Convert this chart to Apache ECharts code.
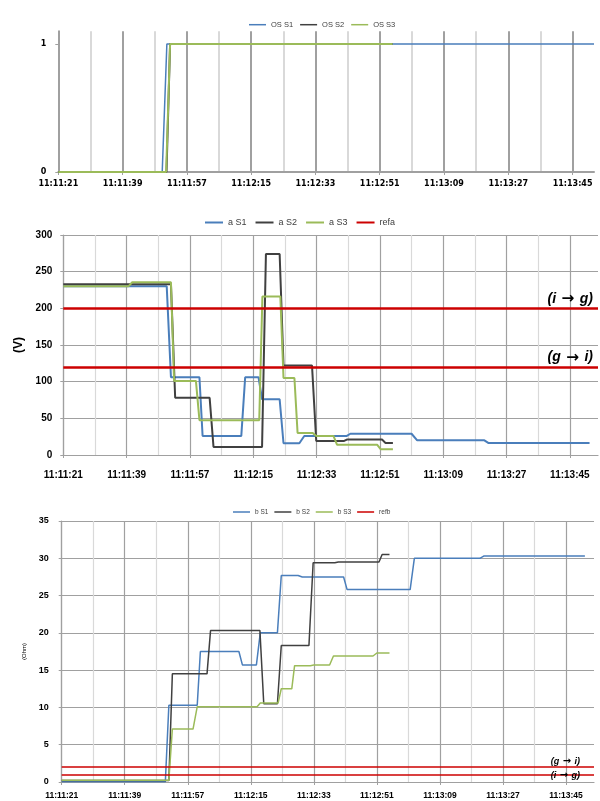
<!DOCTYPE html>
<html><head><meta charset="utf-8">
<script src="https://cdn.jsdelivr.net/npm/echarts@6/dist/echarts.min.js"></script>
<style>html,body{margin:0;padding:0;background:#fff}#c{width:600px;height:801px}</style>
</head><body><div id="c"></div>
<script>
// ---- data (x = seconds after 11:11:21) ----
const tickSeconds = [0, 18, 36, 54, 72, 90, 108, 126, 144];
const tickLabels = ['11:11:21','11:11:39','11:11:57','11:12:15','11:12:33','11:12:51','11:13:09','11:13:27','11:13:45'];
const minorSeconds = [9, 27, 45, 63, 81, 99, 117, 135];

const osS1 = [[0,0],[29.1,0],[30.4,1],[150,1]];
const osS2 = [[0,0],[30.3,0],[31.3,1],[93.6,1]];
const osS3 = [[0,0],[30.2,0],[31.3,1],[93.6,1]];

const aS1 = [[0,230],[29.4,230],[30.6,106],[38.7,106],[39.6,26],[50.6,26],[51.7,106],[55.5,106],[56.5,76],[61.5,76],[62.6,16],[67.1,16],[68.5,26],[80.6,26],[81.6,29],[99,29],[100.6,20],[119.7,20],[120.8,16.5],[149.6,16.5]];
const aS2 = [[0,233],[30.6,233],[31.8,78],[41.6,78],[42.7,11],[56.5,11],[57.6,274],[61.5,274],[62.6,122],[70.7,122],[71.9,19],[79.7,19],[80.6,21],[90.6,21],[91.6,16.5],[93.7,16.5]];
const aS3 = [[0,230],[18.5,230],[19.6,235.5],[30.6,235.5],[31.5,101],[37.7,101],[38.7,47.5],[55.7,47.5],[56.6,216],[61.7,216],[62.6,105],[65.7,105],[66.6,30],[70.9,30],[71.9,26],[76.8,26],[77.8,14],[89.2,14],[90.2,8],[93.7,8]];
const refaValues = [200, 120];
const refaLabels = ['(i \u2192 g)', '(g \u2192 i)'];

const bS1 = [[0,0.05],[29.6,0.05],[30.6,10.3],[38.7,10.3],[39.6,17.5],[50.6,17.5],[51.6,15.7],[55.6,15.7],[56.7,20],[61.6,20],[62.7,27.7],[67.5,27.7],[68.7,27.5],[80.5,27.5],[81.5,25.8],[99.5,25.8],[100.7,30],[119.4,30],[120.5,30.3],[149.4,30.3]];
const bS2 = [[0,0.2],[30.6,0.2],[31.6,14.5],[41.5,14.5],[42.5,20.3],[56.6,20.3],[57.7,10.5],[61.6,10.5],[62.7,18.3],[70.6,18.3],[71.8,29.4],[78,29.4],[79,29.5],[90.6,29.5],[91.5,30.5],[93.6,30.5]];
const bS3 = [[0,0.25],[30.6,0.25],[31.6,7.1],[37.5,7.1],[38.7,10.1],[55.8,10.1],[56.7,10.6],[61.8,10.6],[62.7,12.5],[65.7,12.5],[66.5,15.6],[71,15.6],[72,15.7],[76.5,15.7],[77.6,16.9],[88.9,16.9],[90,17.3],[93.6,17.3]];
const refbValues = [2, 1];
const refbLabels = ['(g \u2192 i)', '(i \u2192 g)'];

// ---- styling ----
const BLUE = '#4a7ebb', DARK = '#404040', GREEN = '#9bbb59', RED = '#cc0000';
const GRID_DARK = '#a0a0a0', GRID_LIGHT = '#d9d9d9';
const xMax = [150, 152, 152];
const grids = [
  {left: 58.3, top: 31.2, width: 535.7, height: 140.8},
  {left: 63.3, top: 235, width: 534.7, height: 220},
  {left: 61.7, top: 521, width: 532.3, height: 261}
];
const gw = [2, 1.2, 1.2];
const xLabelStyle = [
  {fontFamily: 'DejaVu Sans', fontSize: 8, margin: 8},
  {fontFamily: 'Liberation Sans', fontSize: 10, margin: 15},
  {fontFamily: 'Liberation Sans', fontSize: 8.5, margin: 9}
];
const yLabelStyle = [
  {fontFamily: 'DejaVu Sans', fontSize: 8, margin: 12},
  {fontFamily: 'Liberation Sans', fontSize: 10, margin: 11},
  {fontFamily: 'Liberation Sans', fontSize: 9, margin: 13}
];

function timeLabel(v) {
  const k = tickSeconds.indexOf(Math.round(v));
  return k >= 0 ? tickLabels[k] : '';
}

const xAxis = [];
grids.forEach((g, i) => {
  xAxis.push({
    gridIndex: i, type: 'value', min: 0, max: xMax[i], interval: 9,
    axisLine: {show: false}, axisTick: {show: false, customValues: minorSeconds},
    axisLabel: {show: false},
    splitLine: {show: true, lineStyle: {color: GRID_LIGHT, width: gw[i]}}
  });
  xAxis.push({
    gridIndex: i, type: 'value', min: 0, max: xMax[i], interval: 18, position: 'bottom',
    axisLine: {show: true, onZero: false, lineStyle: {color: GRID_DARK, width: gw[i]}},
    axisTick: {show: true, length: 3, customValues: tickSeconds, lineStyle: {color: GRID_DARK}},
    axisLabel: Object.assign({customValues: tickSeconds, formatter: timeLabel, fontWeight: 'bold', color: '#000'}, xLabelStyle[i]),
    splitLine: {show: true, lineStyle: {color: GRID_DARK, width: gw[i]}}
  });
});

const yCfg = [
  {min: 0, max: 1.1, interval: 1, vals: [0, 1]},
  {min: 0, max: 300, interval: 50, vals: [0, 50, 100, 150, 200, 250, 300]},
  {min: 0, max: 35, interval: 5, vals: [0, 5, 10, 15, 20, 25, 30, 35]}
];
const yAxis = yCfg.map((c, i) => ({
  gridIndex: i, type: 'value', min: c.min, max: c.max, interval: c.interval,
  axisLine: {show: true, lineStyle: {color: GRID_DARK, width: gw[i]}},
  axisTick: {show: true, length: 3, customValues: c.vals, lineStyle: {color: GRID_DARK}},
  axisLabel: Object.assign({customValues: c.vals, fontWeight: 'bold', color: '#000'}, yLabelStyle[i]),
  splitLine: {show: true, showMaxLine: i !== 0, lineStyle: {color: GRID_DARK, width: gw[i]}}
}));
yAxis[1].name = '(V)';
yAxis[1].nameLocation = 'middle';
yAxis[1].nameGap = 33;
yAxis[1].nameRotate = 90;
yAxis[1].nameTextStyle = {fontFamily: 'Liberation Sans', fontWeight: 'bold', fontSize: 12, color: '#000'};
yAxis[2].name = '(Ohm)';
yAxis[2].nameLocation = 'middle';
yAxis[2].nameGap = 26;
yAxis[2].nameRotate = 90;
yAxis[2].nameTextStyle = {fontFamily: 'Liberation Sans', fontSize: 6, color: '#000'};

function lineSeries(name, data, xi, yi, color, width) {
  return {name, type: 'line', data, xAxisIndex: xi, yAxisIndex: yi, symbol: 'none',
    color, lineStyle: {color, width}, animation: false, silent: true};
}
function arrowFmt(p) {
  const parts = p.name.split(' \u2192 ');
  return '{t|' + parts[0] + '}{a|\u00a0\u2192\u00a0}{t|' + parts[1] + '}';
}
function refSeries(name, values, labels, xi, yi, width, fontSize, dist) {
  const base = {fontFamily: 'Liberation Sans', fontStyle: 'italic', fontWeight: 'bold', fontSize, color: '#000'};
  return {name, type: 'line', data: [], xAxisIndex: xi, yAxisIndex: yi, symbol: 'none',
    color: RED, lineStyle: {color: RED, width}, animation: false, silent: true,
    markLine: {silent: true, symbol: ['none', 'none'], animation: false,
      lineStyle: {color: RED, width, type: 'solid'},
      emphasis: {disabled: true},
      data: values.map((v, k) => ({yAxis: v, name: labels[k],
        label: Object.assign({show: true, position: 'insideEndTop', formatter: arrowFmt, distance: dist[k],
          rich: {t: Object.assign({}, base), a: Object.assign({}, base, {fontFamily: 'DejaVu Sans', fontSize: fontSize * 1.1})}}, base)}))}};
}

const series = [
  lineSeries('OS S1', osS1, 1, 0, BLUE, 1.5),
  lineSeries('OS S2', osS2, 1, 0, DARK, 2),
  lineSeries('OS S3', osS3, 1, 0, GREEN, 2),
  lineSeries('a S1', aS1, 3, 1, BLUE, 2),
  lineSeries('a S2', aS2, 3, 1, DARK, 2),
  lineSeries('a S3', aS3, 3, 1, GREEN, 2),
  refSeries('refa', refaValues, refaLabels, 3, 1, 2.5, 14, [[5, 2], [5, 2]]),
  lineSeries('b S1', bS1, 5, 2, BLUE, 1.5),
  lineSeries('b S2', bS2, 5, 2, DARK, 1.5),
  lineSeries('b S3', bS3, 5, 2, GREEN, 1.5),
  refSeries('refb', refbValues, refbLabels, 5, 2, 1.5, 9, [[14, 1], [14, -6]])
];

const legendText = (size) => ({fontFamily: 'Liberation Sans', fontSize: size, color: '#404040'});
const option = {
  backgroundColor: '#fff',
  animation: false,
  grid: grids,
  xAxis, yAxis, series,
  legend: [
    {data: ['OS S1', 'OS S2', 'OS S3'], left: 244, top: 15.7, icon: 'rect', itemWidth: 17, itemHeight: 1.5, itemGap: 7,
      textStyle: legendText(7.5), selectedMode: false},
    {data: ['a S1', 'a S2', 'a S3', 'refa'], left: 200, top: 213, icon: 'rect', itemWidth: 18, itemHeight: 2, itemGap: 9,
      textStyle: legendText(9), selectedMode: false},
    {data: ['b S1', 'b S2', 'b S3', 'refb'], left: 228, top: 503.5, icon: 'rect', itemWidth: 17, itemHeight: 1.5, itemGap: 6,
      textStyle: legendText(6.5), selectedMode: false}
  ]
};
const chart = echarts.init(document.getElementById('c'));
chart.setOption(option);
</script></body></html>
